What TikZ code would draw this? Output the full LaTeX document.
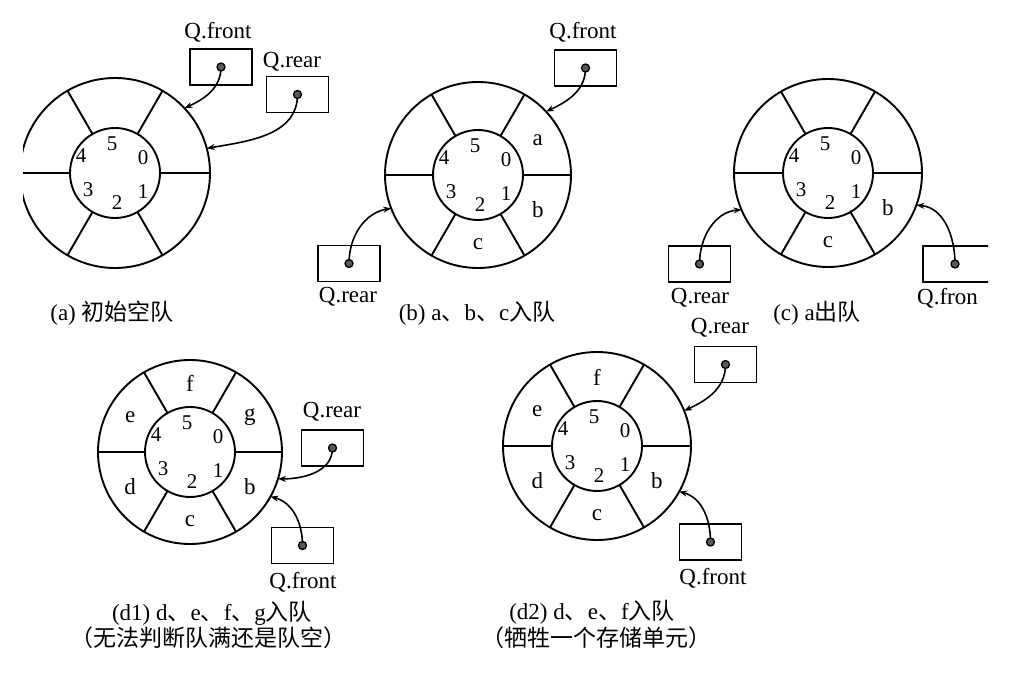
\documentclass[tikz,border=0pt]{standalone}
\usepackage{fontspec}
\setmainfont{Liberation Serif}
\newfontfamily\cjk{Noto Sans CJK SC}
\usetikzlibrary{arrows.meta}
\newcommand\qring[4]{%
  \node[ringc,minimum size=#4pt] (#1) at (#2,#3) {};
  \node[ringc,minimum size=90pt] (#1i) at (#2,#3) {};
  \foreach \a in {0,60,...,300} \draw[ringline] (#1i.\a) -- (#1.\a);
  \node[idx] (#1n5) at ([shift={(-3,29)}]#1.center) {5};
  \node[idx] (#1n0) at ([shift={(28,15)}]#1.center) {0};
  \node[idx] (#1n1) at ([shift={(28,-19)}]#1.center) {1};
  \node[idx] (#1n2) at ([shift={(2,-30)}]#1.center) {2};
  \node[idx] (#1n3) at ([shift={(-27,-17)}]#1.center) {3};
  \node[idx] (#1n4) at ([shift={(-34,17)}]#1.center) {4};
}
\newcommand\qcell[3]{\node[cell] (#1c#2) at ([shift={(#2:69)}]#1.center) {#3};}
\begin{document}
\begin{tikzpicture}[x=1pt,y=1pt,
  ringline/.style={line width=1.9pt},
  ringc/.style={circle,draw,line width=1.9pt,inner sep=0pt,outer sep=0pt},
  ptrbox/.style={draw,line width=1.9pt,minimum width=62pt,minimum height=36pt,inner sep=0pt},
  ptrdot/.style={circle,draw,fill=black!65,line width=1.3pt,minimum size=8pt,inner sep=0pt},
  ptrarrow/.style={line width=1.6pt,-{Stealth[length=8pt,width=6pt]}},
  lbl/.style={font=\fontsize{23}{26}\selectfont,inner sep=0pt},
  idx/.style={font=\fontsize{21}{24}\selectfont,inner sep=0pt},
  cell/.style={font=\fontsize{23}{26}\selectfont,inner sep=0pt},
  captext/.style={font=\fontsize{23}{27}\selectfont,inner sep=0pt}]
\useasboundingbox (0,0) rectangle (1016,680);
\clip (23,0) rectangle (988,680);

% ---------- (a)
\qring{ra}{115}{507}{190}
\node[ptrbox] (af) at (221,613) {};
\node[ptrbox] (ar) at (297.5,585.5) {};
\draw[ptrarrow] (af.center) to[out=-90,in=25] (ra.43);
\draw[ptrarrow] (ar.center) to[out=-90,in=10] (ra.15);
\node[ptrdot] (afd) at (af.center) {};
\node[ptrdot] (ard) at (ar.center) {};
\node[lbl] (afl) at (218,648) {Q.front};
\node[lbl] (arl) at (292,618) {Q.rear};
\node[captext] (capa) at (112,367) {(a) {\cjk 初始空队}};

% ---------- (b)
\qring{rb}{478}{505}{186}
\qcell{rb}{30}{a}
\qcell{rb}{330}{b}
\qcell{rb}{270}{c}
\node[ptrbox] (bf) at (585.5,612) {};
\node[ptrbox] (br) at (349,416.5) {};
\draw[ptrarrow] (bf.center) to[out=-90,in=25] (rb.43);
\draw[ptrarrow] (br.center) to[out=90,in=190] (rb.201);
\node[ptrdot] (bfd) at (bf.center) {};
\node[ptrdot] (brd) at (br.center) {};
\node[lbl] (bfl) at (583,648) {Q.front};
\node[lbl] (brl) at (348,383) {Q.rear};
\node[captext] (capb) at (477,367) {(b) a{\cjk 、}b{\cjk 、}c{\cjk 入队}};

% ---------- (c)
\qring{rc}{828}{507}{188}
\qcell{rc}{330}{b}
\qcell{rc}{270}{c}
\node[ptrbox] (cr) at (699.5,416) {};
\node[ptrbox,minimum width=77pt] (cf) at (961.5,416) {};
\draw[ptrarrow] (cr.center) to[out=90,in=185] (rc.203);
\draw[ptrarrow] ([xshift=-6.5pt]cf.center) to[out=90,in=-5] (rc.340);
\node[ptrdot] (crd) at (cr.center) {};
\node[ptrdot] (cfd) at ([xshift=-6.5pt]cf.center) {};
\node[lbl] (crl) at (700,382) {Q.rear};
\node[lbl,anchor=west] (cfl) at (917,382) {Q.fron};
\node[captext] (capc) at (817,367) {(c) a{\cjk 出队}};

% ---------- (d1)
\qring{rd}{190}{228}{184}
\qcell{rd}{30}{g}
\qcell{rd}{90}{f}
\qcell{rd}{150}{e}
\qcell{rd}{210}{d}
\qcell{rd}{270}{c}
\qcell{rd}{330}{b}
\node[ptrbox] (dr) at (332.5,232) {};
\node[ptrbox] (df) at (302.5,134.5) {};
\draw[ptrarrow] (dr.center) to[out=-90,in=0] (rd.343);
\draw[ptrarrow] (df.center) to[out=90,in=-15] (rd.331);
\node[ptrdot] (drd) at (dr.center) {};
\node[ptrdot] (dfd) at (df.center) {};
\node[lbl] (drl) at (332,268) {Q.rear};
\node[lbl] (dfl) at (303,98) {Q.front};
\node[captext] (capd1) at (212,67) {(d1) d{\cjk 、}e{\cjk 、}f{\cjk 、}g{\cjk 入队}};
\node[captext] (capd1b) at (208,42) {\cjk （无法判断队满还是队空）};

% ---------- (d2)
\qring{re}{597}{234}{188}
\qcell{re}{90}{f}
\qcell{re}{150}{e}
\qcell{re}{210}{d}
\qcell{re}{270}{c}
\qcell{re}{330}{b}
\node[ptrbox] (er) at (725.5,315.5) {};
\node[ptrbox] (ef) at (710.5,138) {};
\draw[ptrarrow] (er.center) to[out=-90,in=25] (re.22);
\draw[ptrarrow] (ef.center) to[out=90,in=-15] (re.331);
\node[ptrdot] (erd) at (er.center) {};
\node[ptrdot] (efd) at (ef.center) {};
\node[lbl] (erl) at (720,352) {Q.rear};
\node[lbl] (efl) at (713,102) {Q.front};
\node[captext] (cape1) at (592,68) {(d2) d{\cjk 、}e{\cjk 、}f{\cjk 入队}};
\node[captext] (cape2) at (596,42) {\cjk （牺牲一个存储单元）};
\end{tikzpicture}
\end{document}
